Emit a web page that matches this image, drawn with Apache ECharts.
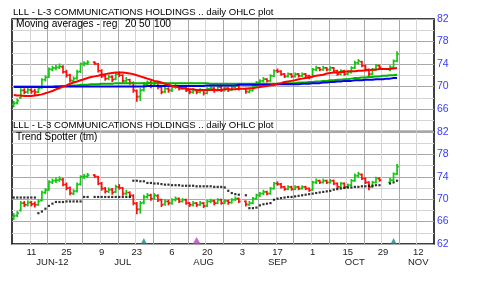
<!DOCTYPE html>
<html><head><meta charset="utf-8">
<script src="https://cdn.jsdelivr.net/npm/echarts@6/dist/echarts.min.js"></script>
<style>html,body{margin:0;padding:0;background:#fff}#c{width:480px;height:282px}</style>
</head><body><div id="c"></div>
<script>
// ---- categories (trading weekdays, Jun 4 - Nov 16, 2012) ----
const dates = ['6/4','6/5','6/6','6/7','6/8','6/11','6/12','6/13','6/14','6/15','6/18','6/19','6/20','6/21','6/22','6/25','6/26','6/27','6/28','6/29',
'7/2','7/3','7/4','7/5','7/6','7/9','7/10','7/11','7/12','7/13','7/16','7/17','7/18','7/19','7/20','7/23','7/24','7/25','7/26','7/27','7/30','7/31',
'8/1','8/2','8/3','8/6','8/7','8/8','8/9','8/10','8/13','8/14','8/15','8/16','8/17','8/20','8/21','8/22','8/23','8/24','8/27','8/28','8/29','8/30','8/31',
'9/3','9/4','9/5','9/6','9/7','9/10','9/11','9/12','9/13','9/14','9/17','9/18','9/19','9/20','9/21','9/24','9/25','9/26','9/27','9/28',
'10/1','10/2','10/3','10/4','10/5','10/8','10/9','10/10','10/11','10/12','10/15','10/16','10/17','10/18','10/19','10/22','10/23','10/24','10/25','10/26','10/29','10/30','10/31',
'11/1','11/2','11/5','11/6','11/7','11/8','11/9','11/12','11/13','11/14','11/15','11/16'];

// ---- OHLC ----
const open = [66.8,67.1,68.0,69.3,69.0,69.4,69.2,69.0,69.8,71.2,
71.7,73.0,73.3,73.4,73.5,72.6,72.0,71.0,71.5,72.7,
74.0,74.1,null,74.3,74.0,72.8,71.9,71.4,71.7,71.3,
72.2,72.0,71.0,71.2,70.6,69.2,68.2,69.4,70.4,70.7,
70.1,70.6,69.9,69.1,69.6,69.3,69.9,70.1,69.6,69.9,
69.3,69.0,69.3,69.0,69.3,68.8,69.6,69.7,69.3,69.9,
69.3,69.7,69.4,69.9,70.1,null,69.6,69.0,69.3,70.1,
70.7,71.0,71.3,71.0,71.9,72.8,72.7,72.2,71.8,72.2,
71.8,72.2,71.9,72.2,71.9,71.7,73.0,73.3,73.0,73.3,
73.0,73.3,72.8,72.2,72.8,72.2,72.5,73.3,74.2,74.4,
73.7,73.0,72.2,73.0,73.7,null,null,73.0,73.4,74.5];
const high = [67.4,67.8,69.6,69.6,69.7,69.6,69.5,69.9,71.4,71.9,
73.3,73.6,73.8,74.0,73.7,72.9,72.2,71.7,72.9,74.2,
74.4,74.6,null,74.4,74.1,73.0,72.1,72.0,71.9,72.5,
72.6,72.1,71.6,71.3,70.8,69.4,69.6,70.7,71.0,70.9,
71.0,70.8,70.0,69.9,69.8,70.1,70.4,70.2,70.1,70.0,
69.4,69.6,69.4,69.6,69.4,69.8,70.0,69.8,70.1,70.0,
69.9,69.8,70.1,70.4,70.2,null,69.7,69.6,70.3,70.9,
71.2,71.6,71.4,72.1,73.0,73.1,72.8,72.3,72.4,72.3,
72.4,72.3,72.4,72.3,72.0,73.2,73.6,73.4,73.6,73.4,
73.5,73.4,72.9,73.0,72.9,72.7,73.5,74.5,74.8,74.5,
73.8,73.1,73.2,73.9,73.8,null,null,73.7,74.7,76.2];
const low = [66.4,66.9,67.9,68.7,68.8,68.8,68.6,68.9,69.7,71.0,
71.6,72.8,73.0,73.2,72.4,71.7,70.8,70.8,71.3,72.5,
73.7,73.9,null,73.9,72.6,71.6,71.1,71.2,70.9,71.2,
71.8,70.7,70.8,70.4,69.0,67.4,67.5,69.2,70.2,69.8,
70.0,69.6,68.7,68.9,69.0,69.1,69.7,69.4,69.5,69.1,
68.7,68.8,68.7,68.9,68.5,68.7,69.4,69.0,69.2,69.1,
69.2,69.1,69.3,69.8,69.4,null,68.8,68.9,69.2,70.0,
70.5,70.8,70.8,70.9,71.8,72.5,72.0,71.6,71.7,71.6,
71.7,71.7,71.8,71.7,71.4,71.6,72.8,72.8,72.9,72.8,
72.9,72.6,72.0,72.1,72.0,72.1,72.4,73.2,74.0,73.5,
72.8,71.7,72.1,72.9,73.2,null,null,72.8,73.3,74.4];
const close = [67.0,67.5,69.3,69.0,69.4,69.1,69.0,69.6,71.2,71.6,
73.1,73.3,73.4,73.6,72.6,72.0,71.1,71.4,72.6,74.0,
74.1,74.3,null,74.1,72.8,71.9,71.4,71.7,71.2,72.2,
72.0,71.0,71.2,70.7,69.3,68.2,69.3,70.4,70.7,70.1,
70.7,69.9,69.0,69.6,69.3,69.9,70.1,69.6,69.9,69.3,
69.0,69.3,69.0,69.3,68.8,69.6,69.7,69.3,69.9,69.3,
69.7,69.4,69.9,70.1,69.6,null,69.1,69.3,70.1,70.7,
71.0,71.3,71.0,71.9,72.8,72.7,72.2,71.8,72.2,71.8,
72.2,71.9,72.2,71.9,71.6,73.0,73.3,73.0,73.3,73.0,
73.3,72.8,72.2,72.8,72.2,72.5,73.3,74.2,74.5,73.7,
73.0,72.2,73.0,73.7,73.4,null,null,73.4,74.5,75.8];

// ---- moving averages (20 / 50 / 100) ----
const ma20 = [68.5,68.4,68.4,68.3,68.3,68.3,68.4,68.5,68.6,68.8,
69.0,69.2,69.5,69.7,70.0,70.2,70.5,70.7,70.9,71.1,
71.3,71.5,71.7,71.8,71.9,72.1,72.2,72.3,72.4,72.5,
72.5,72.5,72.4,72.3,72.2,72.0,71.8,71.6,71.4,71.2,
71.0,70.9,70.7,70.5,70.3,70.1,70.0,69.8,69.7,69.6,
69.5,69.5,69.4,69.4,69.4,69.4,69.4,69.4,69.4,69.4,
69.5,69.5,69.5,69.5,69.6,69.6,69.6,69.7,69.7,69.8,
69.9,70.0,70.1,70.2,70.4,70.5,70.6,70.8,70.9,71.0,
71.1,71.3,71.4,71.5,71.6,71.8,71.9,72.0,72.1,72.3,
72.4,72.5,72.5,72.6,72.6,72.7,72.7,72.7,72.8,72.8,
72.9,72.9,73.0,73.0,73.1,73.1,73.1,73.1,73.2,73.3];
const ma50 = [70.0,70.0,70.0,70.0,70.0,70.0,70.0,70.0,70.0,70.0,
70.0,70.0,70.1,70.1,70.1,70.1,70.2,70.2,70.2,70.3,
70.3,70.3,70.4,70.4,70.4,70.5,70.5,70.5,70.5,70.6,
70.6,70.6,70.6,70.6,70.6,70.6,70.6,70.6,70.6,70.6,
70.6,70.6,70.6,70.6,70.6,70.6,70.6,70.6,70.6,70.6,
70.6,70.6,70.6,70.6,70.6,70.6,70.5,70.5,70.5,70.5,
70.5,70.5,70.5,70.5,70.5,70.5,70.5,70.5,70.5,70.5,
70.5,70.5,70.5,70.5,70.5,70.5,70.5,70.6,70.6,70.6,
70.6,70.7,70.7,70.7,70.8,70.8,70.9,70.9,71.0,71.0,
71.1,71.1,71.2,71.2,71.3,71.3,71.4,71.5,71.5,71.6,
71.6,71.7,71.7,71.8,71.8,71.9,71.9,72.0,72.0,72.1];
const ma100 = [69.9,69.9,69.9,69.9,69.9,69.9,69.9,69.9,69.9,69.9,
69.9,69.9,69.9,69.9,70.0,70.0,70.0,70.0,70.0,70.0,
70.0,70.0,70.0,70.0,70.0,70.0,70.0,70.0,70.0,70.0,
70.0,70.0,70.0,70.0,70.0,70.0,70.0,70.0,70.1,70.1,
70.1,70.1,70.1,70.1,70.1,70.1,70.1,70.1,70.1,70.1,
70.1,70.1,70.1,70.1,70.1,70.2,70.2,70.2,70.2,70.2,
70.2,70.2,70.2,70.2,70.3,70.3,70.3,70.3,70.3,70.3,
70.3,70.3,70.3,70.3,70.3,70.4,70.4,70.4,70.4,70.4,
70.4,70.4,70.5,70.5,70.5,70.6,70.6,70.6,70.7,70.7,
70.8,70.8,70.9,70.9,71.0,71.0,71.0,71.1,71.1,71.1,
71.2,71.2,71.2,71.3,71.3,71.3,71.4,71.4,71.5,71.5];

// ---- Trend Spotter ----
const trend = [70.3,70.3,70.3,70.3,70.3,70.3,70.3,67.5,67.8,68.3,
68.8,69.2,69.5,69.5,69.5,69.6,69.6,69.6,69.6,69.6,
70.4,70.4,null,70.4,70.4,70.4,70.4,70.4,70.4,70.4,
70.4,70.4,70.4,70.4,73.3,73.3,73.2,73.2,72.9,72.9,
72.8,72.8,72.7,72.6,72.6,72.5,72.5,72.5,72.4,72.4,
72.4,72.4,72.3,72.3,72.3,72.3,72.3,72.2,72.2,72.2,
72.1,71.5,71.1,70.9,70.8,null,70.7,68.4,68.4,68.5,
68.9,69.1,69.2,69.3,69.9,70.1,70.2,70.3,70.4,70.4,
70.5,70.6,70.7,70.8,70.9,71.0,71.1,71.2,71.3,71.4,
71.5,71.7,71.8,71.9,72.0,72.1,72.1,72.2,72.2,72.3,
72.3,72.4,72.4,72.5,72.5,null,null,72.8,73.0,73.3];

// ---- events on the time axis ----
const eventDates = ['7/25','8/15','11/1'];
const eventKinds = ['earnings','dividend','earnings'];

// ---- tick labels / grid weeks ----
const dayTickAt   = ['6/11','6/25','7/9','7/23','8/6','8/20','9/3','9/17','10/1','10/15','10/29','11/12'];
const dayTickText = ['11','25','9','23','6','20','3','17','1','15','29','12'];
const monthTickAt   = ['6/19','7/17','8/17','9/17','10/17','11/12'];
const monthTickText = ['JUN-12','JUL','AUG','SEP','OCT','NOV'];
const weekLinesAt = ['6/11','6/18','6/25','7/2','7/9','7/16','7/23','7/30','8/6','8/13','8/20','8/27','9/3','9/10','9/17','9/24','10/1','10/8','10/15','10/22','10/29','11/5','11/12'];
const yMin = 62, yMax = 82, yStep = 4;

const titleText = 'LLL - L-3 COMMUNICATIONS HOLDINGS .. daily OHLC plot';

// ---------------------------------------------------------------
const FONT = '"Liberation Sans", Arial, sans-serif';
const GREEN = '#14c814', RED = '#ff1010';
const DARK = '#a8a8a8', LIGHT = '#d4d4d4';

const ohlcData = close.map((c, i) => c == null ? null : [i, open[i], high[i], low[i], c]).filter(Boolean);
const trendData = trend.map((v, i) => v == null ? null : [i, v]).filter(Boolean);
const weekData = weekLinesAt.map(d => { const i = dates.indexOf(d); return [i, dayTickAt.includes(d) ? 0 : 1]; });

function ohlcItem(params, api) {
  const x = api.value(0);
  const o = api.value(1), c = api.value(4);
  const pH = api.coord([x, api.value(2)]);
  const pL = api.coord([x, api.value(3)]);
  const pO = api.coord([x, o]);
  const pC = api.coord([x, c]);
  const col = c >= o ? GREEN : RED;
  const cx = pH[0];
  const t = 1.8;
  const st = { stroke: col, lineWidth: 1.7 };
  return { type: 'group', children: [
    { type: 'line', shape: { x1: cx, y1: pH[1] - 0.5, x2: cx, y2: pL[1] + 0.5 }, style: st },
    { type: 'line', shape: { x1: cx - t, y1: pO[1], x2: cx, y2: pO[1] }, style: st },
    { type: 'line', shape: { x1: cx, y1: pC[1], x2: cx + t, y2: pC[1] }, style: st }
  ]};
}
function weekLineItem(params, api) {
  const i = api.value(0);
  const band = api.size([1, 0])[0];
  const pTop = api.coord([i, yMax]);
  const pBot = api.coord([i, yMin]);
  const x = Math.round(pTop[0] - band / 2) + 0.5;
  return { type: 'line', shape: { x1: x, y1: pTop[1], x2: x, y2: pBot[1] },
           style: { stroke: api.value(1) ? DARK : LIGHT, lineWidth: 1 } };
}

function xAxisBase(grid) {
  return {
    type: 'category', gridIndex: grid, data: dates, boundaryGap: true,
    axisLine: { show: false }, axisTick: { show: false }, axisLabel: { show: false }, splitLine: { show: false }
  };
}
function yAxisBase(grid, hideMin) {
  return {
    type: 'value', gridIndex: grid, position: 'right', min: yMin, max: yMax, interval: yStep,
    axisLine: { show: false }, axisTick: { show: false },
    axisLabel: { color: '#3a3aff', fontFamily: FONT, fontSize: 10.5, margin: 3, showMinLabel: !hideMin },
    splitLine: { show: true, lineStyle: { color: DARK, width: 1 } },
    minorTick: { show: false, splitNumber: 2 },
    minorSplitLine: { show: true, lineStyle: { color: LIGHT, width: 1 } }
  };
}

const xTop = xAxisBase(0);
const xBot = xAxisBase(1);
xBot.axisLabel = {
  show: true, color: '#222', fontFamily: FONT, fontSize: 9.5, margin: 4, lineHeight: 9.5,
  interval: (i, v) => dayTickAt.includes(v) || monthTickAt.includes(v),
  formatter: (v) => {
    const d = dayTickAt.indexOf(v), m = monthTickAt.indexOf(v);
    return (d >= 0 ? dayTickText[d] : '') + '\n' + (m >= 0 ? monthTickText[m] : '');
  }
};

const txt = (text, left, top, size) => ({ type: 'text', left: left, top: top, z: 50,
  style: { text: text, font: size + 'px ' + FONT, fill: '#000' } });

const option = {
  animation: false,
  backgroundColor: '#fff',
  grid: [
    { left: 12, top: 19, width: 422, height: 112.5, show: true, borderColor: '#000', borderWidth: 1.5, backgroundColor: 'transparent' },
    { left: 12, top: 132, width: 422, height: 112, show: true, borderColor: '#000', borderWidth: 1.5, backgroundColor: 'transparent' }
  ],
  xAxis: [xTop, xBot],
  yAxis: [yAxisBase(0, true), yAxisBase(1, false)],
  graphic: [
    txt(titleText, 13, 7.5, 9.6),
    txt(titleText, 13, 120, 9.6),
    txt('Moving averages - reg', 16, 19.5, 10.2),
    txt('20', 125, 19.5, 10.2),
    txt('50', 139, 19.5, 10.2),
    txt('100', 154, 19.5, 10.2),
    txt('Trend Spotter (tm)', 16, 132.5, 10)
  ],
  series: [
    { type: 'custom', xAxisIndex: 0, yAxisIndex: 0, renderItem: weekLineItem, data: weekData, encode: { x: 0 }, clip: true, z: 1, silent: true },
    { type: 'custom', xAxisIndex: 1, yAxisIndex: 1, renderItem: weekLineItem, data: weekData, encode: { x: 0 }, clip: true, z: 1, silent: true },
    { type: 'custom', xAxisIndex: 0, yAxisIndex: 0, renderItem: ohlcItem, data: ohlcData, encode: { x: 0, y: [1, 2, 3, 4] }, clip: true, z: 2 },
    { type: 'line', xAxisIndex: 0, yAxisIndex: 0, data: ma50, showSymbol: false, connectNulls: true, lineStyle: { color: '#00b400', width: 2 }, z: 3 },
    { type: 'line', xAxisIndex: 0, yAxisIndex: 0, data: ma100, showSymbol: false, connectNulls: true, lineStyle: { color: '#0000f0', width: 2 }, z: 4 },
    { type: 'line', xAxisIndex: 0, yAxisIndex: 0, data: ma20, showSymbol: false, connectNulls: true, lineStyle: { color: '#ff0000', width: 2 }, z: 5 },
    { type: 'custom', xAxisIndex: 1, yAxisIndex: 1, renderItem: ohlcItem, data: ohlcData, encode: { x: 0, y: [1, 2, 3, 4] }, clip: true, z: 2 },
    { type: 'scatter', xAxisIndex: 1, yAxisIndex: 1, data: trendData, symbol: 'rect', symbolSize: [2.2, 2.2], itemStyle: { color: '#000' }, z: 4 },
    { type: 'scatter', xAxisIndex: 1, yAxisIndex: 1, clip: false, z: 6,
      data: eventDates.map((d, i) => ({ value: [d, yMin],
        symbolSize: eventKinds[i] === 'dividend' ? [8, 7] : [6, 6],
        symbolOffset: [0, eventKinds[i] === 'dividend' ? -3.5 : -3],
        itemStyle: { color: eventKinds[i] === 'dividend' ? '#c040c8' : '#128a8a' } })),
      symbol: 'triangle' }
  ]
};
echarts.init(document.getElementById('c'), null, { renderer: 'canvas' }).setOption(option);
</script></body></html>
